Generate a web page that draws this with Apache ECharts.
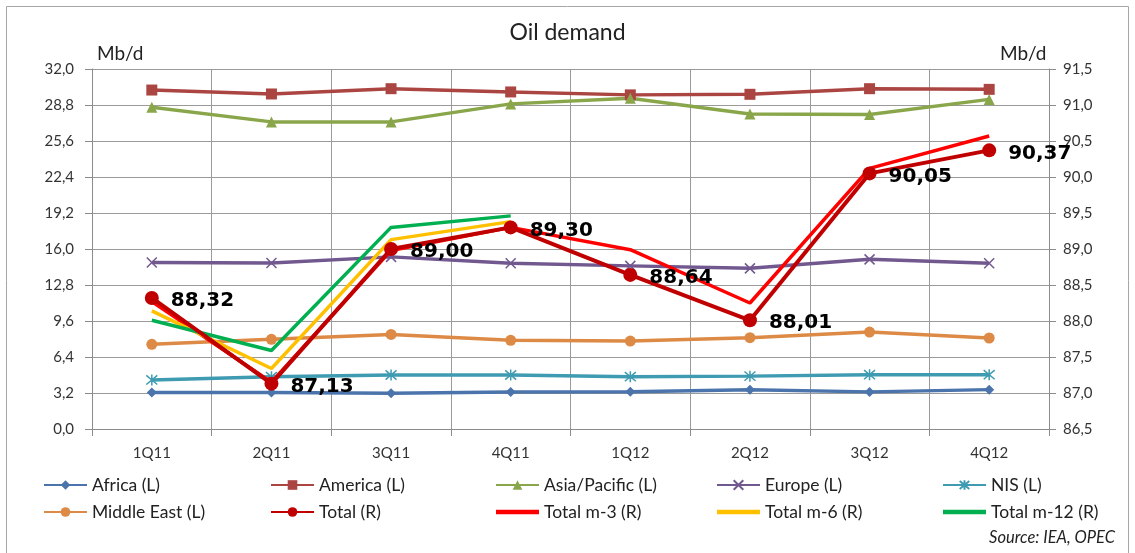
<!DOCTYPE html>
<html>
<head>
<meta charset="utf-8">
<script src="https://cdn.jsdelivr.net/npm/echarts@6/dist/echarts.min.js"></script>
<style>
  html, body { margin: 0; padding: 0; background: #fff; }
  #oil-demand-chart { width: 1135px; height: 553px; }
</style>
</head>
<body>
<div id="oil-demand-chart"></div>
<script>
// quarters on the x axis
const quarters = ['1Q11', '2Q11', '3Q11', '4Q11', '1Q12', '2Q12', '3Q12', '4Q12']

// left axis series (Mb/d)
const africa = [3.25, 3.25, 3.17, 3.29, 3.32, 3.48, 3.3, 3.5]
const america = [30.13, 29.78, 30.25, 29.96, 29.7, 29.75, 30.25, 30.19]
const asiaPacific = [28.6, 27.3, 27.3, 28.9, 29.4, 28.0, 27.95, 29.3]
const europe = [14.8, 14.76, 15.3, 14.73, 14.5, 14.28, 15.08, 14.73]
const nis = [4.36, 4.65, 4.8, 4.8, 4.65, 4.7, 4.83, 4.83]
const middleEast = [7.53, 7.97, 8.41, 7.88, 7.82, 8.12, 8.62, 8.09]

// right axis series (Mb/d)
const total = [88.32, 87.13, 89.00, 89.30, 88.64, 88.01, 90.05, 90.37]
const totalM3 = [88.27, 87.15, 88.98, 89.30, 88.99, 88.25, 90.12, 90.57]
const totalM6 = [88.14, 87.34, 89.13, 89.38, null, null, null, null]
const totalM12 = [88.01, 87.59, 89.30, 89.46, null, null, null, null]

// axis ticks
const leftMin = 0, leftMax = 32, leftStep = 3.2
const rightMin = 86.5, rightMax = 91.5, rightStep = 0.5

const font = 'Lato, "Open Sans", sans-serif'
const comma = function (v, d) { return Number(v).toFixed(d).replace('.', ',') }

const crossPath = 'path://M0,0L10,10M10,0L0,10'
const starPath = 'path://M0,0L10,10M10,0L0,10M5,-1L5,11'
const plainLine = 'path://M0,0L40,0L40,4L0,4Z'

function leftLine(name, data, color, symbol, size, extra) {
    const s = {
        name: name,
        type: 'line',
        yAxisIndex: 0,
        data: data,
        symbol: symbol,
        symbolSize: size,
        showSymbol: true,
        lineStyle: { color: color, width: 3.5 },
        itemStyle: { color: color, borderColor: color, borderWidth: 0 },
        emphasis: { disabled: true },
        z: 2
    }
    return Object.assign(s, extra || {})
}

function rightLine(name, data, color, extra) {
    const s = {
        name: name,
        type: 'line',
        yAxisIndex: 1,
        data: data,
        symbol: 'none',
        connectNulls: false,
        lineStyle: { color: color, width: 3.5 },
        itemStyle: { color: color },
        emphasis: { disabled: true },
        z: 3
    }
    return Object.assign(s, extra || {})
}

const echartEl = document.getElementById('oil-demand-chart')
const echartInstance = echarts.init(echartEl, null, { renderer: 'canvas' })

const legendText = { fontFamily: font, fontSize: 17.5, lineHeight: 18, color: '#222' }
function legendCol(left, names) {
    return {
        data: names,
        orient: 'vertical',
        left: left,
        top: 476,
        padding: 0,
        itemWidth: 43,
        itemHeight: 12,
        itemGap: 9,
        textStyle: legendText,
        selectedMode: false
    }
}

const option = {
    animation: false,
    backgroundColor: '#fff',
    textStyle: { fontFamily: font },
    title: {
        text: 'Oil demand',
        left: 'center',
        top: 21,
        padding: 0,
        textStyle: { fontFamily: font, fontSize: 23, fontWeight: 'normal', color: '#222' }
    },
    grid: {
        left: 92,
        right: 86,
        top: 69,
        bottom: 124,
        containLabel: false,
        outerBoundsMode: 'none'
    },
    legend: [
        legendCol(43, ['Africa (L)', 'Middle East (L)']),
        legendCol(270, ['America (L)', 'Total (R)']),
        legendCol(495, ['Asia/Pacific (L)', { name: 'Total m-3 (R)', icon: plainLine }]),
        legendCol(716, ['Europe (L)', { name: 'Total m-6 (R)', icon: plainLine }]),
        legendCol(942, ['NIS (L)', { name: 'Total m-12 (R)', icon: plainLine }])
    ],
    xAxis: {
        type: 'category',
        data: quarters,
        boundaryGap: true,
        axisLine: { show: true, lineStyle: { color: '#8c8c8c', width: 1 } },
        axisTick: { show: true, length: 7, lineStyle: { color: '#8c8c8c' } },
        splitLine: { show: true, lineStyle: { color: '#9a9a9a', width: 1 } },
        axisLabel: { margin: 17, fontFamily: font, fontSize: 15, color: '#333' }
    },
    yAxis: [
        {
            type: 'value',
            position: 'left',
            min: leftMin,
            max: leftMax,
            interval: leftStep,
            axisLine: { show: true, lineStyle: { color: '#8c8c8c', width: 1 } },
            axisTick: { show: true, length: 7, lineStyle: { color: '#8c8c8c' } },
            splitLine: { show: true, lineStyle: { color: '#9a9a9a', width: 1 } },
            axisLabel: {
                margin: 18,
                fontFamily: font,
                fontSize: 15,
                color: '#333',
                formatter: function (v) { return comma(v, 1) }
            }
        },
        {
            type: 'value',
            position: 'right',
            min: rightMin,
            max: rightMax,
            interval: rightStep,
            axisLine: { show: true, lineStyle: { color: '#8c8c8c', width: 1 } },
            axisTick: { show: true, length: 7, lineStyle: { color: '#8c8c8c' } },
            splitLine: { show: false },
            axisLabel: {
                margin: 14,
                fontFamily: font,
                fontSize: 15,
                color: '#333',
                formatter: function (v) { return comma(v, 1) }
            }
        }
    ],
    graphic: [
        {
            type: 'rect',
            shape: { x: 6.5, y: 6.5, width: 1122, height: 560 },
            style: { fill: 'none', stroke: '#a6a6a6', lineWidth: 1 },
            silent: true
        },
        {
            type: 'text', left: 97, top: 44,
            style: { text: 'Mb/d', font: '19px ' + font, fill: '#222' }
        },
        {
            type: 'text', left: 1000, top: 44,
            style: { text: 'Mb/d', font: '19px ' + font, fill: '#222' }
        },
        {
            type: 'text', right: 20, top: 529,
            style: { text: 'Source: IEA, OPEC', font: 'italic 16.5px ' + font, fill: '#222' }
        }
    ],
    series: [
        leftLine('Africa (L)', africa, '#4a74ab', 'diamond', 10),
        leftLine('America (L)', america, '#ab4542', 'rect', 11),
        leftLine('Asia/Pacific (L)', asiaPacific, '#8aa64b', 'triangle', 11),
        leftLine('Europe (L)', europe, '#71588f', crossPath, 10, {
            itemStyle: { color: 'none', borderColor: '#71588f', borderWidth: 1.5 }
        }),
        leftLine('NIS (L)', nis, '#3e9bb1', starPath, 11, {
            itemStyle: { color: 'none', borderColor: '#3e9bb1', borderWidth: 1.5 }
        }),
        leftLine('Middle East (L)', middleEast, '#dc8a45', 'circle', 11),
        rightLine('Total m-3 (R)', totalM3, '#ff0000'),
        rightLine('Total m-6 (R)', totalM6, '#ffc000'),
        rightLine('Total m-12 (R)', totalM12, '#00b050'),
        rightLine('Total (R)', total, '#c00000', {
            symbol: 'circle',
            symbolSize: 14,
            showSymbol: true,
            lineStyle: { color: '#c00000', width: 4 },
            z: 4,
            label: {
                show: true,
                position: 'right',
                distance: 12,
                offset: [0, 3],
                fontFamily: '"DejaVu Sans", sans-serif',
                fontSize: 20,
                fontWeight: 'bold',
                color: '#000',
                formatter: function (p) { return comma(p.value, 2) }
            }
        })
    ]
}
echartInstance.setOption(option)
</script>
</body>
</html>
